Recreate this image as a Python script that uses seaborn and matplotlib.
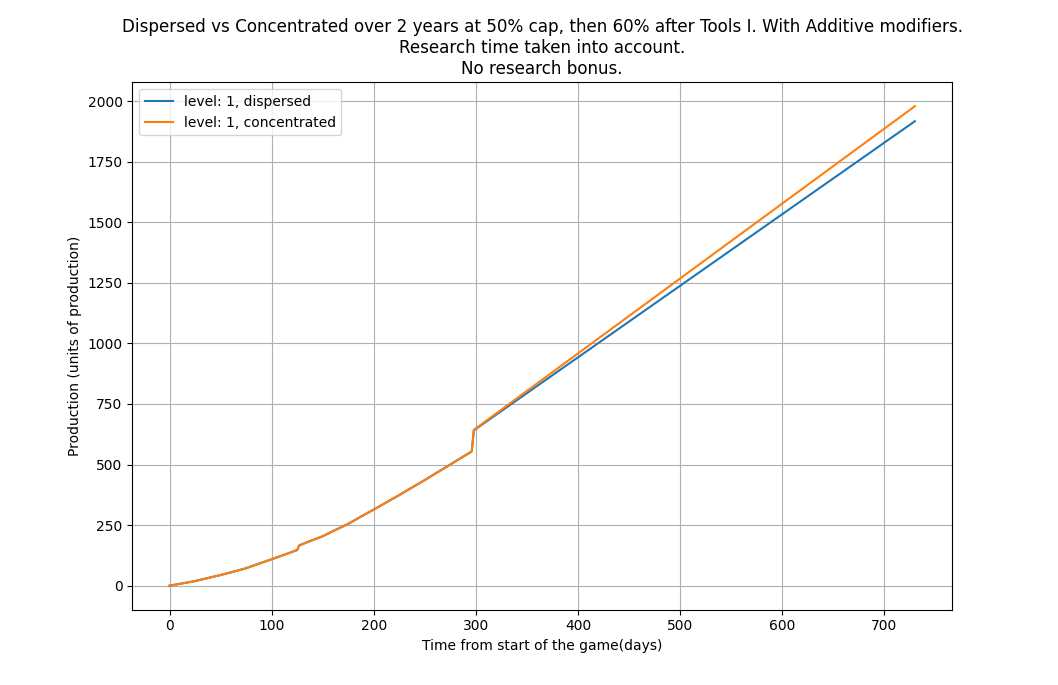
import matplotlib
matplotlib.use("Agg")
import matplotlib.pyplot as plt
import seaborn as sns
import pandas as pd

# values
days = [0, 12, 25, 37, 50, 62, 75, 87, 100, 112, 125, 127, 137, 150, 162, 175,
        187, 200, 212, 225, 237, 250, 262, 275, 285, 296, 298, 730]
dispersed = [0, 9, 19, 31, 44, 57, 72, 90, 109, 127, 147, 166, 183, 204, 229, 255,
             284, 314, 343, 374, 404, 436, 467, 500, 526, 554, 641, 1917]
concentrated = [0, 9, 19, 31, 44, 57, 72, 90, 109, 127, 147, 166, 183, 204, 229, 255,
                284, 314, 343, 374, 404, 436, 467, 500, 526, 554, 643, 1979]

labels = ["level: 1, dispersed", "level: 1, concentrated"]

df = pd.DataFrame({"day": days, "dispersed": dispersed, "concentrated": concentrated})

fig = plt.figure(figsize=(10.58, 6.85), dpi=100)
ax = fig.add_subplot(111)

sns.lineplot(x="day", y="dispersed", data=df, ax=ax, color="C0", label=labels[0])
sns.lineplot(x="day", y="concentrated", data=df, ax=ax, color="C1", label=labels[1])

ax.set_title("Dispersed vs Concentrated over 2 years at 50% cap, then 60% after Tools I. With Additive modifiers.\n"
             "Research time taken into account.\nNo research bonus.", fontsize=12.02)
ax.set_xlabel("Time from start of the game(days)")
ax.set_ylabel("Production (units of production)")
ax.grid(True)
ax.legend(loc="upper left")

fig.savefig("out.png", dpi=100)
